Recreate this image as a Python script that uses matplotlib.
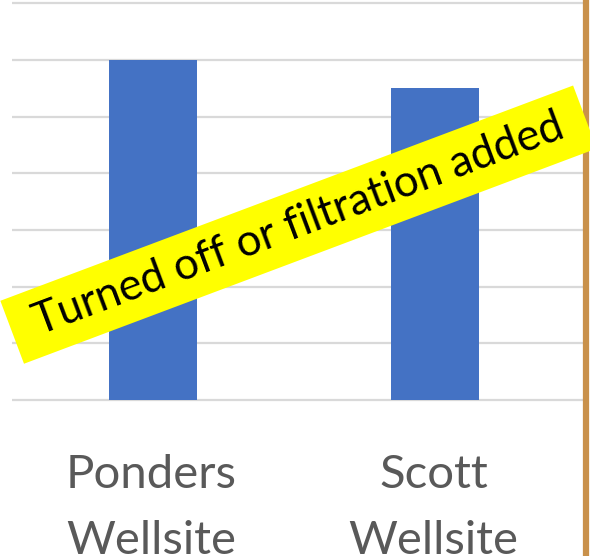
import matplotlib.pyplot as plt

# data
sites = ["Ponders\nWellsite", "Scott\nWellsite"]
values = [6.0, 5.5]
grid_levels = [0, 1, 2, 3, 4, 5, 6, 7]
banner_text = " Turned off or filtration added "

fig = plt.figure(figsize=(5.9, 5.56), dpi=100)
ax = fig.add_axes([0, 0, 1, 1])
ax.axis("off")

x = list(range(len(sites)))
ax.set_xlim(-0.5426, 1.5496)
ax.set_ylim(-2.751, 7.055)

# gridlines behind bars
ax.hlines(grid_levels, -0.5, 1.53, colors="#D9D9D9", linewidth=1.6, zorder=1)
ax.bar(x, values, width=0.312, color="#4472C4", zorder=2)

# category labels
for xi, lab in zip(x, sites):
    ax.text(xi - 0.005, -1.91, lab, ha="center", va="center", fontsize=34,
            family="Lato", color="#595959", linespacing=1.7)

# brown border on the right
ax.axvline(1.5355, color="#C9914B", linewidth=4.5, zorder=3)

# yellow banner
ax.text(0.506, 0.596, banner_text, transform=ax.transAxes, rotation=20.6,
        rotation_mode="anchor", ha="center", va="center", fontsize=31.5,
        family="Lato", color="black", zorder=5,
        bbox=dict(boxstyle="square,pad=0.3", facecolor="#FFFF00", edgecolor="none"))

fig.savefig("out.png", dpi=100)
